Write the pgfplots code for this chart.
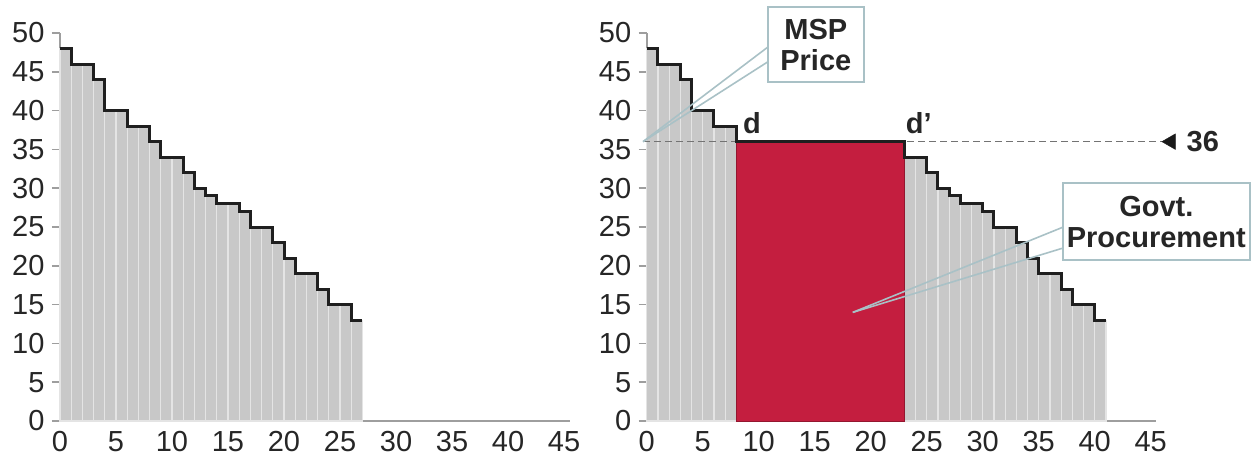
\documentclass[border=0pt]{standalone}
\usepackage{fontspec}
\setmainfont{Liberation Sans}
\usepackage{pgfplots}
\usepackage{pgfplotstable}
\pgfplotsset{compat=1.18}
\definecolor{barg}{HTML}{C8C8C8}
\definecolor{stripe}{HTML}{E4E4E4}
\definecolor{msp}{HTML}{C41E3F}
\definecolor{callout}{HTML}{A9C1C6}
\definecolor{axisg}{HTML}{9E9E9E}
\tikzset{bigbold/.style={font=\bfseries\fontsize{29bp}{31bp}\selectfont, text=black!85}}
\pgfplotsset{
  mystyle/.style={
    scale only axis, width=509.6bp, height=388bp,
    xmin=0, xmax=45.5, ymin=0, ymax=50,
    axis x line=bottom, axis y line=left,
    axis line style={-, axisg, line width=1.6bp},
    xtick={0,5,...,45}, ytick={0,5,...,50},
    tick align=outside, major tick length=8bp,
    xtick style={draw=none}, ytick style={axisg, line width=1.6bp},
    ticklabel style={font=\fontsize{29bp}{32bp}\selectfont, text=black!85},
    yticklabel style={xshift=-4bp},
    xticklabel style={yshift=1bp},
    /pgf/number format/assume math mode=true,
    clip=false,
  },
}
\pgfplotstableread{
x y
0.5 48
1.5 46
2.5 46
3.5 44
4.5 40
5.5 40
6.5 38
7.5 38
8.5 36
9.5 34
10.5 34
11.5 32
12.5 30
13.5 29
14.5 28
15.5 28
16.5 27
17.5 25
18.5 25
19.5 23
20.5 21
21.5 19
22.5 19
23.5 17
24.5 15
25.5 15
26.5 13
}\leftbars
\pgfplotstableread{
x y
0.5 48
1.5 46
2.5 46
3.5 44
4.5 40
5.5 40
6.5 38
7.5 38
23.5 34
24.5 34
25.5 32
26.5 30
27.5 29
28.5 28
29.5 28
30.5 27
31.5 25
32.5 25
33.5 23
34.5 21
35.5 19
36.5 19
37.5 17
38.5 15
39.5 15
40.5 13
}\rightbars
\begin{document}
\begin{tikzpicture}
\begin{axis}[mystyle, at={(0,0)}, anchor=south west]
  \addplot[ybar, bar width=1, bar shift=0, fill=barg, draw=stripe, line width=1.2bp] table[x=x,y=y] {\leftbars};
  \addplot[const plot, line width=3bp, black!88] coordinates {(0,48)(1,46)(3,44)(4,40)(6,38)(8,36)(9,34)(11,32)(12,30)(13,29)(14,28)(16,27)(17,25)(19,23)(20,21)(21,19)(23,17)(24,15)(26,13)(27,13)};
\end{axis}
\begin{axis}[mystyle, at={(586.7bp,0)}, anchor=south west]
  \addplot[ybar, bar width=1, bar shift=0, fill=barg, draw=stripe, line width=1.2bp] table[x=x,y=y] {\rightbars};
  \addplot[black!55, line width=1.5bp, dash pattern=on 7bp off 4bp] coordinates {(-0.3,36)(46,36)};
  \addplot[fill=msp, draw=msp!75!black, line width=1bp] coordinates {(8,0)(8,36)(23,36)(23,0)(8,0)};
  \addplot[const plot, line width=3bp, black!88] coordinates {(0,48)(1,46)(3,44)(4,40)(6,38)(8,36)(23,34)(25,32)(26,30)(27,29)(28,28)(30,27)(31,25)(33,23)(34,21)(35,19)(37,17)(38,15)(40,13)(41,13)};
  \addplot[only marks, mark=triangle*, mark size=9bp, mark options={rotate=90, fill=black!90, draw=black!90}] coordinates {(46.8,36)};
  \node[bigbold, anchor=west] at (47.9,36) {36};
  \node[bigbold] at (9.4,38.4) {d};
  \node[bigbold] at (24.3,38.4) {d’};
  \draw[callout, line width=1.6bp] (-0.33,36) -- (10.83,48.2);
  \draw[callout, line width=1.6bp] (-0.33,36) -- (10.83,46.3);
  \draw[callout, line width=1.6bp] (18.4,14) -- (37.2,25.0);
  \draw[callout, line width=1.6bp] (18.4,14) -- (37.2,22.3);
  \node[bigbold, draw=callout, line width=2bp, fill=white, align=center, minimum width=96bp, minimum height=75bp, inner sep=0pt] at (15.1,48.5) {MSP\\Price};
  \node[bigbold, draw=callout, line width=2bp, fill=white, align=center, minimum width=187bp, minimum height=77bp, inner sep=0pt] at (45.5,25.7) {Govt.\\Procurement};
\end{axis}
\pgfresetboundingbox
\path[use as bounding box] (-60bp,-38bp) rectangle (1191bp,421bp);
\end{tikzpicture}
\end{document}
